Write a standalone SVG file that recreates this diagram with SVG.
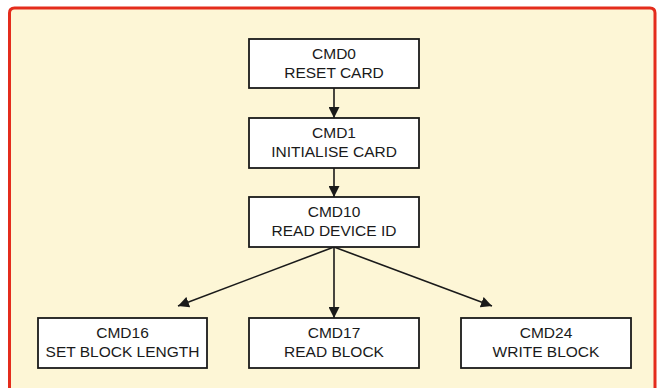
<svg xmlns="http://www.w3.org/2000/svg" width="662" height="388" viewBox="0 0 662 388">
<style>
.box{fill:#ffffff;stroke:#1a1a1a;stroke-width:1.8}
.t{font-family:"Liberation Sans",Arial,sans-serif;font-size:15.5px;fill:#1a1a1a;text-anchor:middle}
.c{stroke:#1a1a1a;stroke-width:1.6;fill:none}
</style>
<defs>
<marker id="ah" viewBox="0 0 10 10" refX="10" refY="5" markerWidth="11" markerHeight="11" markerUnits="userSpaceOnUse" orient="auto">
<path d="M0,0 L10,5 L0,10 z" fill="#1a1a1a"/>
</marker>
</defs>
<rect x="0" y="0" width="662" height="388" fill="#ffffff"/>
<path d="M9.5,394 L9.5,13 Q9.5,8 14.5,8 L650,8 Q655,8 655,13 L655,394" fill="#fdf6d6" stroke="#e42c1c" stroke-width="3"/>
<g id="connectors">
<line class="c" x1="334" y1="88" x2="334" y2="118" marker-end="url(#ah)"/>
<line class="c" x1="334" y1="168" x2="334" y2="197" marker-end="url(#ah)"/>
<line class="c" x1="334" y1="247" x2="178" y2="306" marker-end="url(#ah)"/>
<line class="c" x1="334" y1="247" x2="334" y2="318" marker-end="url(#ah)"/>
<line class="c" x1="334" y1="247" x2="492" y2="306" marker-end="url(#ah)"/>
</g>
<g id="cmd0"><rect class="box" x="249" y="39" width="170" height="49"/><text class="t" x="334" y="59">CMD0</text><text class="t" x="334" y="78">RESET CARD</text></g>
<g id="cmd1"><rect class="box" x="249" y="118" width="170" height="50"/><text class="t" x="334" y="138">CMD1</text><text class="t" x="334" y="157">INITIALISE CARD</text></g>
<g id="cmd10"><rect class="box" x="249" y="197" width="170" height="50"/><text class="t" x="334" y="217">CMD10</text><text class="t" x="334" y="236">READ DEVICE ID</text></g>
<g id="cmd16"><rect class="box" x="38" y="318" width="169" height="50"/><text class="t" x="122.5" y="338">CMD16</text><text class="t" x="122.5" y="357">SET BLOCK LENGTH</text></g>
<g id="cmd17"><rect class="box" x="249" y="318" width="170" height="50"/><text class="t" x="334" y="338">CMD17</text><text class="t" x="334" y="357">READ BLOCK</text></g>
<g id="cmd24"><rect class="box" x="461" y="318" width="170" height="50"/><text class="t" x="546" y="338">CMD24</text><text class="t" x="546" y="357">WRITE BLOCK</text></g>
</svg>
